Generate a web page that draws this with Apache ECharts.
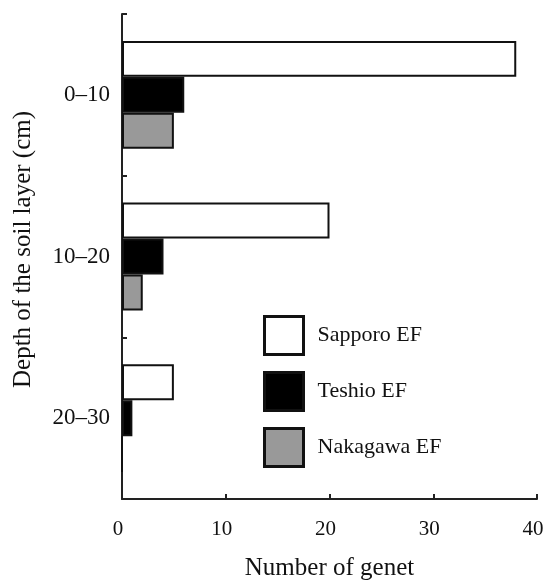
<!DOCTYPE html>
<html>
<head>
<meta charset="utf-8">
<script src="https://cdn.jsdelivr.net/npm/echarts@6/dist/echarts.min.js"></script>
<style>html,body{margin:0;padding:0;background:#fff;}#c{width:544px;height:580px;}</style>
</head>
<body>
<div id="c"></div>
<script>
const categories = ['0–10', '10–20', '20–30'];
const sapporo = [38, 20, 5];
const teshio = [6, 4, 1];
const nakagawa = [5, 2, 0];
const xTicks = [0, 10, 20, 30, 40];

const font = 'Liberation Serif';
const chart = echarts.init(document.getElementById('c'));
const mk = (name, data, color) => ({
  name, type: 'bar', data,
  barGap: '0%', barCategoryGap: '33.3%',
  itemStyle: { color, borderColor: '#111', borderWidth: 2 }
});
chart.setOption({
  animation: false,
  backgroundColor: '#fff',
  grid: { left: 122, right: 7, top: 14, bottom: 81, outerBoundsMode: 'none', containLabel: false },
  xAxis: {
    type: 'value', min: xTicks[0], max: xTicks[xTicks.length - 1], interval: 10,
    splitLine: { show: false },
    axisLine: { show: true, lineStyle: { color: '#222', width: 2 } },
    axisTick: { show: true, inside: true, length: 5, lineStyle: { color: '#222', width: 2 } },
    axisLabel: { fontFamily: font, fontSize: 21, color: '#111', margin: 20, padding: [0, 8, 0, 0] },
    name: 'Number of genet', nameLocation: 'middle', nameGap: 57,
    nameTextStyle: { fontFamily: font, fontSize: 25, color: '#111' }
  },
  yAxis: {
    type: 'category', data: categories, inverse: true,
    axisLine: { show: true, lineStyle: { color: '#222', width: 2 } },
    axisTick: { show: true, inside: true, length: 5, lineStyle: { color: '#222', width: 2 } },
    axisLabel: { fontFamily: font, fontSize: 23, color: '#111', margin: 12 },
    name: 'Depth of the soil layer (cm)', nameLocation: 'middle', nameGap: 86,
    nameTextStyle: { fontFamily: font, fontSize: 25, color: '#111', padding: [0, 0, 0, 14] }
  },
  legend: {
    orient: 'vertical', left: 263, top: 315, icon: 'rect', padding: 0,
    itemWidth: 39, itemHeight: 38, itemGap: 15,
    itemStyle: { borderColor: '#111', borderWidth: 3 },
    textStyle: { fontFamily: font, fontSize: 22, color: '#111', padding: [0, 0, 0, 9] },
    data: ['Sapporo EF', 'Teshio EF', 'Nakagawa EF']
  },
  series: [
    mk('Sapporo EF', sapporo, '#ffffff'),
    mk('Teshio EF', teshio, '#000000'),
    mk('Nakagawa EF', nakagawa, '#999999')
  ]
});
</script>
</body>
</html>
